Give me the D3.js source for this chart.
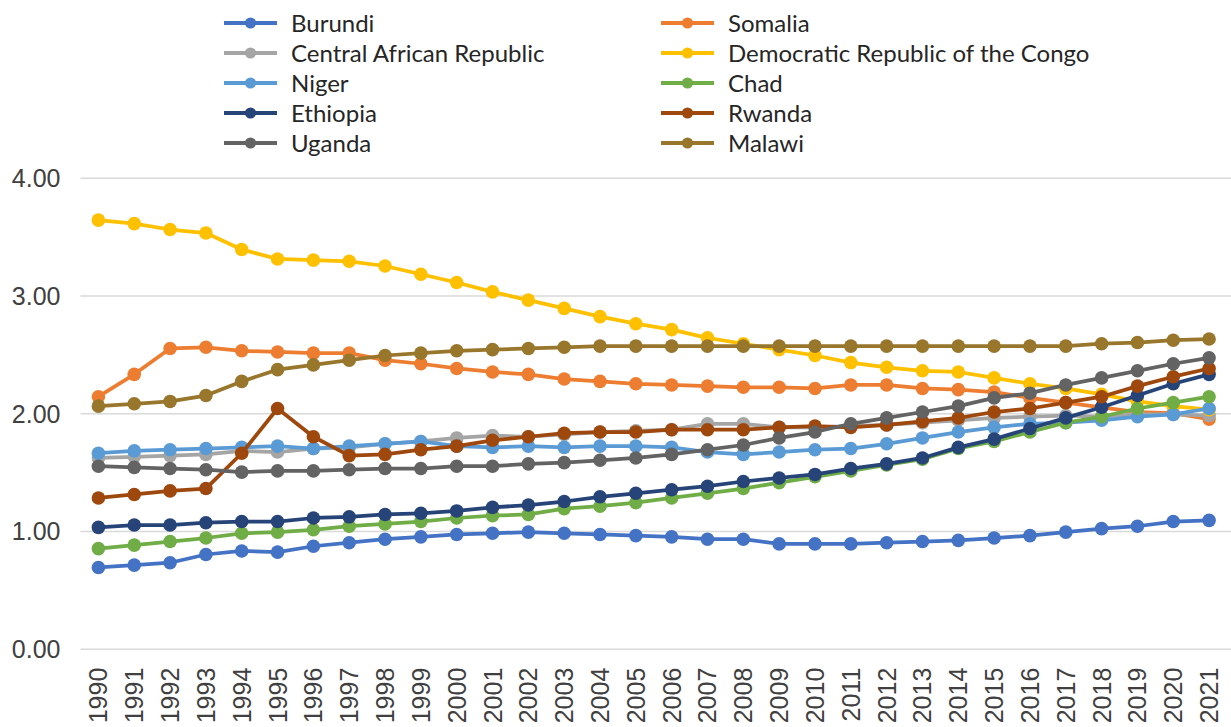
<!DOCTYPE html>
<html>
<head>
<meta charset="utf-8">
<script src="https://cdn.jsdelivr.net/npm/d3@7"></script>
<style>
    body { margin: 0; background: #fff; }
    svg { font-family: Lato, "Open Sans", sans-serif; }
    .axis text { fill: #404040; font-size: 25px; }
    .legend text { fill: #262626; font-size: 24px; }
</style>
</head>
<body>
<svg id="chart" width="1231" height="727"></svg>
<script>
// Data
const years = d3.range(1990, 2022).map(String);
const yTicks = [0, 1, 2, 3, 4];

const burundi = [0.69, 0.71, 0.73, 0.80, 0.83, 0.82, 0.87, 0.90, 0.93, 0.95, 0.97, 0.98, 0.99, 0.98, 0.97, 0.96, 0.95, 0.93, 0.93, 0.89, 0.89, 0.89, 0.90, 0.91, 0.92, 0.94, 0.96, 0.99, 1.02, 1.04, 1.08, 1.09];
const somalia = [2.14, 2.33, 2.55, 2.56, 2.53, 2.52, 2.51, 2.51, 2.45, 2.42, 2.38, 2.35, 2.33, 2.29, 2.27, 2.25, 2.24, 2.23, 2.22, 2.22, 2.21, 2.24, 2.24, 2.21, 2.20, 2.18, 2.13, 2.09, 2.05, 2.01, 2.00, 1.95];
const car = [1.62, 1.63, 1.64, 1.65, 1.68, 1.67, 1.70, 1.71, 1.74, 1.76, 1.79, 1.81, 1.80, 1.82, 1.84, 1.85, 1.86, 1.91, 1.91, 1.88, 1.88, 1.89, 1.90, 1.92, 1.94, 1.96, 1.97, 1.98, 1.97, 1.99, 1.99, 1.98];
const drc = [3.64, 3.61, 3.56, 3.53, 3.39, 3.31, 3.30, 3.29, 3.25, 3.18, 3.11, 3.03, 2.96, 2.89, 2.82, 2.76, 2.71, 2.64, 2.59, 2.54, 2.49, 2.43, 2.39, 2.36, 2.35, 2.30, 2.25, 2.21, 2.16, 2.10, 2.06, 2.03];
const niger = [1.66, 1.68, 1.69, 1.70, 1.71, 1.72, 1.70, 1.72, 1.74, 1.76, 1.72, 1.71, 1.72, 1.71, 1.72, 1.72, 1.71, 1.67, 1.65, 1.67, 1.69, 1.70, 1.74, 1.79, 1.84, 1.88, 1.91, 1.92, 1.94, 1.97, 1.99, 2.04];
const chad = [0.85, 0.88, 0.91, 0.94, 0.98, 0.99, 1.01, 1.04, 1.06, 1.08, 1.11, 1.13, 1.14, 1.19, 1.21, 1.24, 1.28, 1.32, 1.36, 1.41, 1.46, 1.51, 1.56, 1.61, 1.70, 1.76, 1.84, 1.92, 1.97, 2.04, 2.09, 2.14];
const ethiopia = [1.03, 1.05, 1.05, 1.07, 1.08, 1.08, 1.11, 1.12, 1.14, 1.15, 1.17, 1.20, 1.22, 1.25, 1.29, 1.32, 1.35, 1.38, 1.42, 1.45, 1.48, 1.53, 1.57, 1.62, 1.71, 1.78, 1.87, 1.96, 2.05, 2.15, 2.25, 2.33];
const rwanda = [1.28, 1.31, 1.34, 1.36, 1.66, 2.04, 1.80, 1.64, 1.65, 1.69, 1.72, 1.77, 1.80, 1.83, 1.84, 1.84, 1.86, 1.86, 1.86, 1.88, 1.89, 1.88, 1.90, 1.93, 1.96, 2.01, 2.04, 2.09, 2.14, 2.23, 2.31, 2.38];
const uganda = [1.55, 1.54, 1.53, 1.52, 1.50, 1.51, 1.51, 1.52, 1.53, 1.53, 1.55, 1.55, 1.57, 1.58, 1.60, 1.62, 1.65, 1.69, 1.73, 1.79, 1.84, 1.91, 1.96, 2.01, 2.06, 2.13, 2.17, 2.24, 2.30, 2.36, 2.42, 2.47];
const malawi = [2.06, 2.08, 2.10, 2.15, 2.27, 2.37, 2.41, 2.45, 2.49, 2.51, 2.53, 2.54, 2.55, 2.56, 2.57, 2.57, 2.57, 2.57, 2.57, 2.57, 2.57, 2.57, 2.57, 2.57, 2.57, 2.57, 2.57, 2.57, 2.59, 2.60, 2.62, 2.63];

// drawing order follows the spreadsheet series order
const series = [
    { name: "Burundi", values: burundi, color: "#4472C4" },
    { name: "Somalia", values: somalia, color: "#ED7D31" },
    { name: "Central African Republic", values: car, color: "#A5A5A5" },
    { name: "Democratic Republic of the Congo", values: drc, color: "#FFC000" },
    { name: "Niger", values: niger, color: "#5B9BD5" },
    { name: "Chad", values: chad, color: "#70AD47" },
    { name: "Ethiopia", values: ethiopia, color: "#264478" },
    { name: "Rwanda", values: rwanda, color: "#9E480E" },
    { name: "Uganda", values: uganda, color: "#636363" },
    { name: "Malawi", values: malawi, color: "#98762C" }
];

const svg = d3.select("#chart");
const plot = { left: 80.5, right: 1227, top: 177.7, bottom: 648.7 };

const x = d3.scaleBand().domain(years).range([plot.left, plot.right]).padding(0);
const y = d3.scaleLinear().domain([0, 4]).range([plot.bottom, plot.top]);

// y axis + gridlines
const yAxis = svg.append("g")
    .attr("class", "axis")
    .attr("transform", `translate(${plot.left},0)`)
    .call(d3.axisLeft(y).tickValues(yTicks).tickFormat(d3.format(".2f"))
        .tickSize(-(1231 - plot.left)).tickPadding(20));
yAxis.select(".domain").remove();
yAxis.selectAll(".tick line").attr("stroke", "#D9D9D9").attr("stroke-width", 1.5);
yAxis.selectAll(".tick text").attr("dy", "0.36em");

// x axis, rotated year labels
const xAxis = svg.append("g")
    .attr("class", "axis")
    .attr("transform", `translate(0,${plot.bottom})`)
    .call(d3.axisBottom(x).tickSize(0));
xAxis.select(".domain").remove();
xAxis.selectAll(".tick text")
    .attr("text-anchor", "end")
    .attr("transform", "translate(0,19) rotate(-90)")
    .attr("x", 0).attr("y", 0).attr("dy", "0.36em");

// lines and markers
const line = d3.line()
    .x((d, i) => x(years[i]) + x.bandwidth() / 2)
    .y(d => y(d));

const groups = svg.append("g").selectAll("g").data(series).enter().append("g");
groups.append("path")
    .attr("d", d => line(d.values))
    .attr("fill", "none")
    .attr("stroke", d => d.color)
    .attr("stroke-width", 3.75)
    .attr("stroke-linejoin", "round");
groups.selectAll("circle")
    .data(d => d.values.map(v => ({ v: v, color: d.color })))
    .enter().append("circle")
    .attr("cx", (d, i) => x(years[i]) + x.bandwidth() / 2)
    .attr("cy", d => y(d.v))
    .attr("r", 6.8)
    .attr("fill", d => d.color);

// legend: two columns, filled row by row
const legend = svg.append("g").attr("class", "legend");
const items = legend.selectAll("g").data(series).enter().append("g")
    .attr("transform", (d, i) => `translate(${i % 2 === 0 ? 224 : 661},${23 + Math.floor(i / 2) * 30})`);
items.append("line")
    .attr("x1", 0).attr("x2", 53)
    .attr("stroke", d => d.color).attr("stroke-width", 4);
items.append("circle")
    .attr("cx", 26.5).attr("r", 5.6)
    .attr("fill", d => d.color);
items.append("text")
    .attr("x", 67).attr("dy", "0.36em")
    .text(d => d.name);
</script>
</body>
</html>
